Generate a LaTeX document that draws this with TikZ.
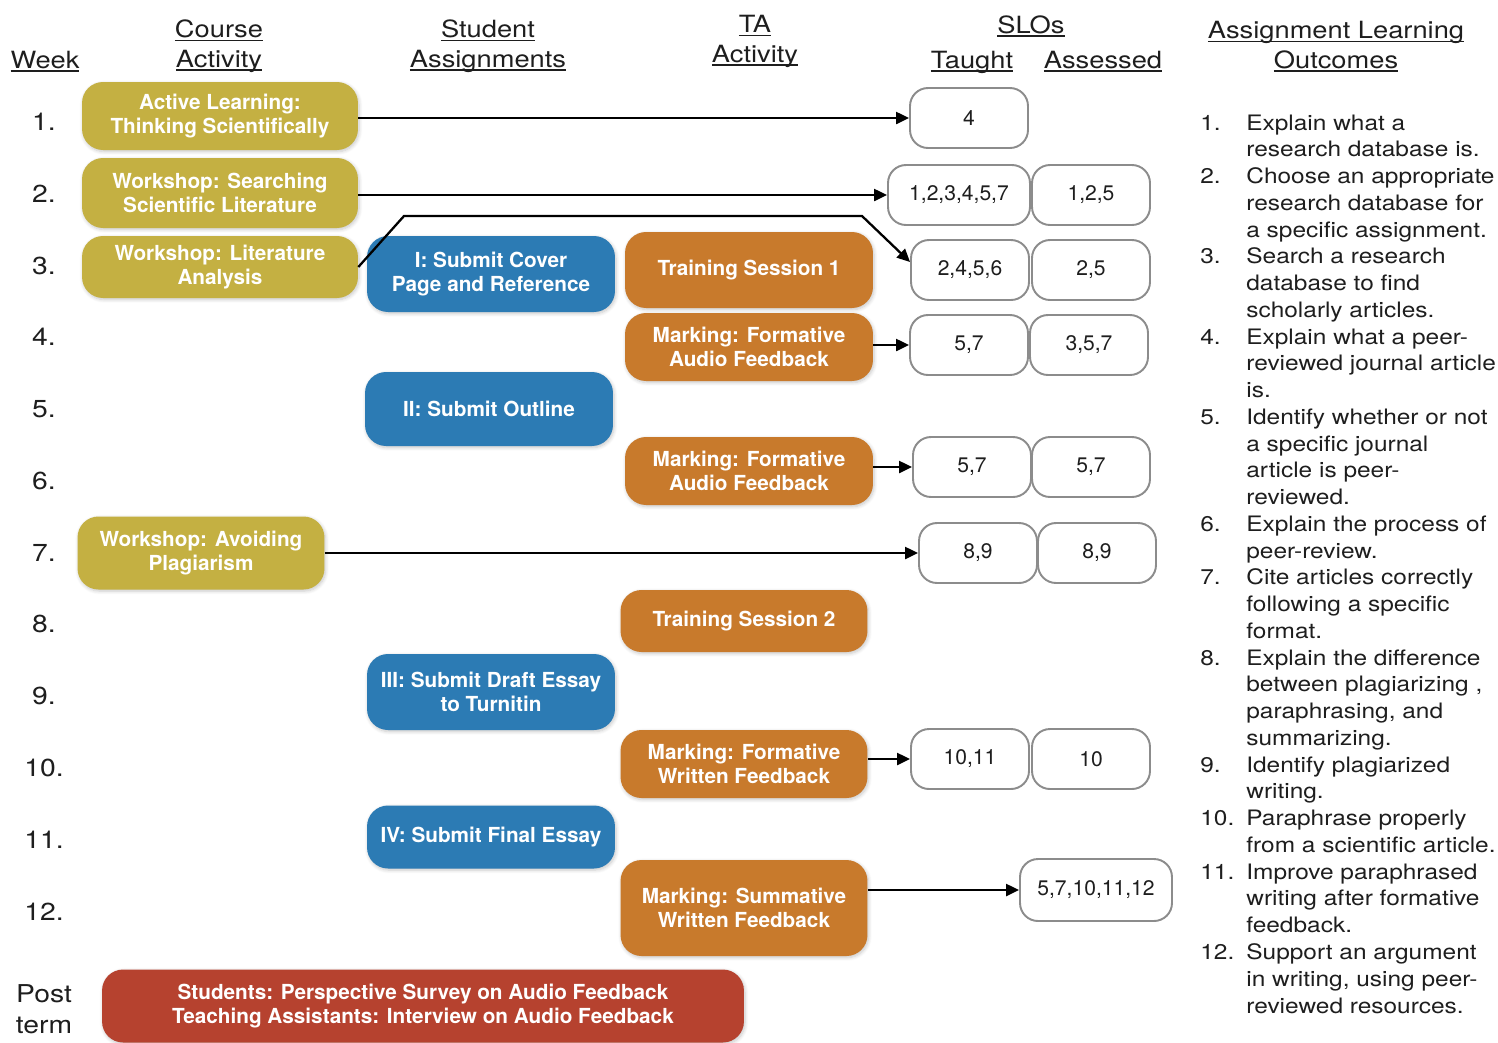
\documentclass[tikz,border=0pt]{standalone}
\usepackage{fontspec}
\setmainfont{TeX Gyre Heros}[FakeStretch=1.15]
\newfontfamily\boxfamily{TeX Gyre Heros}
\usetikzlibrary{arrows.meta,shadows.blur}

\definecolor{courseclr}{RGB}{196,176,66}
\definecolor{assignclr}{RGB}{44,123,180}
\definecolor{taclr}{RGB}{200,122,44}
\definecolor{postclr}{RGB}{182,66,47}
\definecolor{sloline}{RGB}{140,140,140}
\definecolor{txtclr}{RGB}{30,30,30}

% underline close to the baseline, as in the headings
\newcommand{\headul}[1]{\sbox0{#1}\rlap{\rule[-2.2pt]{\wd0}{0.8pt}}\usebox0}

\tikzset{
  box/.style={rounded corners=0.42cm, text=white, align=center, inner sep=0pt,
    font=\boxfamily\bfseries\fontsize{11.8}{13.6}\selectfont,
    blur shadow={shadow blur steps=6, shadow xshift=0.6pt, shadow yshift=-0.9pt,
      shadow blur radius=2pt, shadow opacity=22}},
  course/.style={box, fill=courseclr, minimum width=5.52cm},
  assign/.style={box, fill=assignclr, minimum width=4.96cm},
  taact/.style={box, fill=taclr, minimum width=4.96cm},
  slo/.style={draw=sloline, line width=1.1pt, fill=white, rounded corners=0.36cm,
    minimum width=2.36cm, minimum height=1.2cm, inner sep=0pt,
    font=\boxfamily\fontsize{12}{14}\selectfont, text=txtclr},
  head/.style={font=\fontsize{13.5}{17}\selectfont, text=txtclr, align=center},
  week/.style={font=\fontsize{14}{17.6}\selectfont, text=txtclr},
  link/.style={-{Triangle[length=0.26cm,width=0.24cm]}, line width=1.3pt}
}

\begin{document}
\begin{tikzpicture}[x=0.02cm,y=-0.02cm]
  \useasboundingbox (0,0) rectangle (1498,1042);

  % Headings (base = last line)
  \node[head,anchor=base] (hweek) at (45,68) {\headul{Week}};
  \node[head,anchor=base] (hcourse) at (219,67) {\headul{Course}\\\headul{Activity}};
  \node[head,anchor=base] (hstudent) at (488,67) {\headul{Student}\\\headul{Assignments}};
  \node[head,anchor=base] (hta) at (755,62) {\headul{TA}\\\headul{Activity}};
  \node[head,anchor=base] (hslo) at (1031,33) {\headul{SLOs}};
  \node[head,anchor=base] (htaught) at (972,68) {\headul{Taught}};
  \node[head,anchor=base] (hassessed) at (1103,68) {\headul{Assessed}};
  \node[head,anchor=base] (houtcome) at (1336,68) {\headul{Assignment Learning}\\\headul{Outcomes}};

  % Weeks
  \foreach \w/\yb in {1/130,2/202,3/274,4/345,5/417,6/489,7/561,8/632,9/704,10/776,11/848,12/920}
    \node[week,anchor=base] (week\w) at (44,\yb) {\w.};
  \node[week,align=center] (postterm) at (44,1009) {Post\\term};

  % Course activities
  \node[course,minimum height=1.36cm] (course1) at (220,116) {Active Learning:\\Thinking Scientifically};
  \node[course,minimum height=1.40cm] (course2) at (220,193) {Workshop: Searching\\Scientific Literature};
  \node[course,minimum height=1.24cm] (course3) at (220,267) {Workshop: Literature\\Analysis};
  \node[course,minimum width=4.94cm,minimum height=1.46cm] (course7) at (201,553) {Workshop: Avoiding\\Plagiarism};

  % Student assignments
  \node[assign,minimum height=1.52cm] (assign1) at (491,274) {I: Submit Cover\\Page and Reference};
  \node[assign,minimum height=1.48cm] (assign2) at (489,409) {II: Submit Outline};
  \node[assign,minimum height=1.52cm] (assign3) at (491,692) {III: Submit Draft Essay\\to Turnitin};
  \node[assign,minimum height=1.26cm] (assign4) at (491,837) {IV: Submit Final Essay};

  % TA activities
  \node[taact,minimum height=1.52cm] (ta3) at (749,270) {Training Session 1};
  \node[taact,minimum height=1.36cm] (ta4) at (749,347) {Marking: Formative\\Audio Feedback};
  \node[taact,minimum height=1.36cm] (ta6) at (749,471) {Marking: Formative\\Audio Feedback};
  \node[taact,minimum width=4.94cm,minimum height=1.24cm] (ta8) at (744,621) {Training Session 2};
  \node[taact,minimum width=4.94cm,minimum height=1.36cm] (ta10) at (744,764) {Marking: Formative\\Written Feedback};
  \node[taact,minimum width=4.94cm,minimum height=1.92cm] (ta12) at (744,908) {Marking: Summative\\Written Feedback};

  % Post term
  \node[box,fill=postclr,minimum width=12.84cm,minimum height=1.46cm] (post) at (423,1006)
    {Students: Perspective Survey on Audio Feedback\\Teaching Assistants: Interview on Audio Feedback};

  % SLOs taught / assessed
  \node[slo] (taught1) at (969,118) {4};
  \node[slo,minimum width=2.84cm] (taught2) at (959,195) {1,2,3,4,5,7};
  \node[slo] (assessed2) at (1091,195) {1,2,5};
  \node[slo] (taught3) at (970,270) {2,4,5,6};
  \node[slo] (assessed3) at (1091,270) {2,5};
  \node[slo] (taught4) at (969,345) {5,7};
  \node[slo] (assessed4) at (1089,345) {3,5,7};
  \node[slo] (taught6) at (972,467) {5,7};
  \node[slo] (assessed6) at (1091,467) {5,7};
  \node[slo] (taught7) at (978,553) {8,9};
  \node[slo] (assessed7) at (1097,553) {8,9};
  \node[slo] (taught10) at (970,759) {10,11};
  \node[slo] (assessed10) at (1091,759) {10};
  \node[slo,minimum width=3.04cm,minimum height=1.24cm] (taught12) at (1096,890) {5,7,10,11,12};

  % Links to the SLOs
  \coordinate (bendlow) at (404,216);
  \coordinate (bendhigh) at (862,216);
  \draw[link] (course1.east |- taught1.west) -- (taught1.west);
  \draw[link] (course2.east |- taught2.west) -- (taught2.west);
  \draw[link] (course3.east) -- (bendlow) -- (bendhigh) -- ([yshift=0.16cm]taught3.west);
  \draw[link] (ta4.east |- taught4.west) -- (taught4.west);
  \draw[link] (ta6.east |- taught6.west) -- (taught6.west);
  \draw[link] (course7.east |- taught7.west) -- (taught7.west);
  \draw[link] (ta10.east |- taught10.west) -- (taught10.west);
  \draw[link] (ta12.east |- taught12.west) -- (taught12.west);

  % Learning outcomes
  \node[anchor=base west,inner sep=0pt,text=txtclr,font=\fontsize{12.1}{15.23}\selectfont] (outcomes) at (1200,130) {%
    \begin{tabular}[t]{@{}p{0.92cm}@{}l@{}}
    1.  & Explain what a\\
        & research database is.\\
    2.  & Choose an appropriate\\
        & research database for\\
        & a specific assignment.\\
    3.  & Search a research\\
        & database to find\\
        & scholarly articles.\\
    4.  & Explain what a peer-\\
        & reviewed journal article\\
        & is.\\
    5.  & Identify whether or not\\
        & a specific journal\\
        & article is peer-\\
        & reviewed.\\
    6.  & Explain the process of\\
        & peer-review.\\
    7.  & Cite articles correctly\\
        & following a specific\\
        & format.\\
    8.  & Explain the difference\\
        & between plagiarizing ,\\
        & paraphrasing, and\\
        & summarizing.\\
    9.  & Identify plagiarized\\
        & writing.\\
    10. & Paraphrase properly\\
        & from a scientific article.\\
    11. & Improve paraphrased\\
        & writing after formative\\
        & feedback.\\
    12. & Support an argument\\
        & in writing, using peer-\\
        & reviewed resources.
    \end{tabular}};
\end{tikzpicture}
\end{document}
